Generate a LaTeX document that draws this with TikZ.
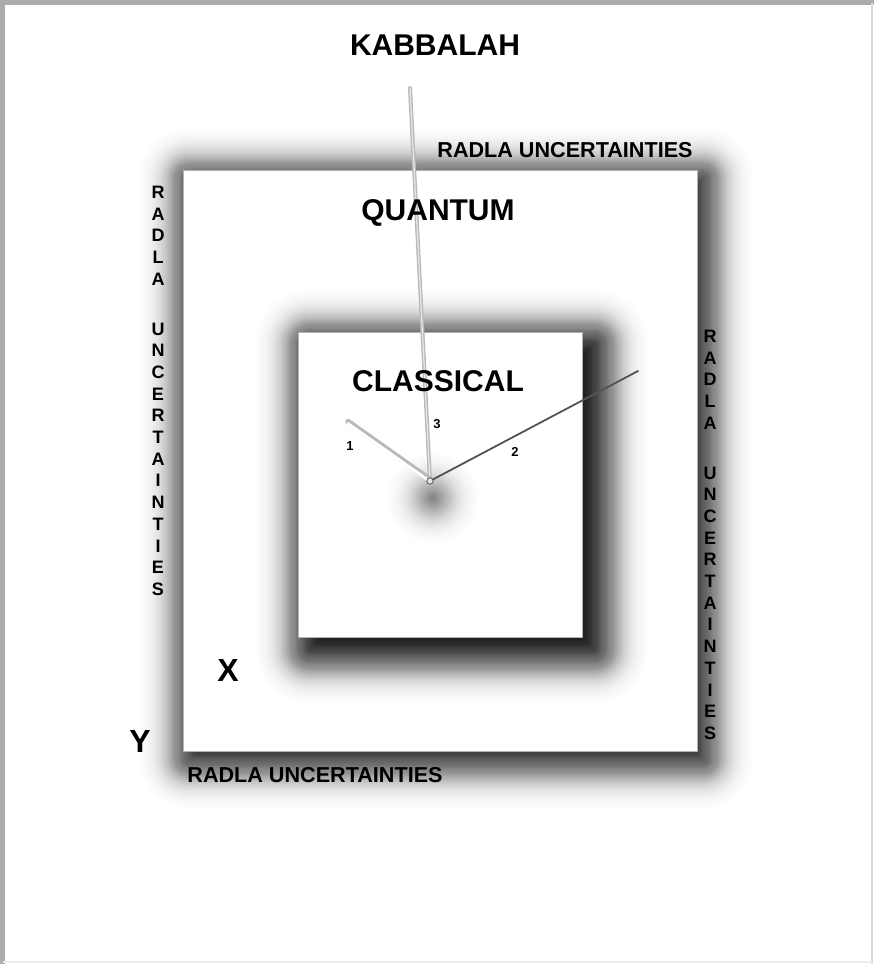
\documentclass[tikz,border=0pt]{standalone}
\usepackage{fontspec}
\setmainfont{Liberation Sans}
\begin{document}
\begin{tikzpicture}[x=1pt,y=-1pt,
  bigtitle/.style={font=\fontsize{30}{32}\selectfont\bfseries, inner sep=0pt},
  edgelabel/.style={font=\fontsize{21.6}{24}\selectfont\bfseries, inner sep=0pt},
  vlabel/.style={font=\fontsize{18}{21.7}\selectfont\bfseries, inner sep=0pt, align=center, anchor=north},
  axislabel/.style={font=\fontsize{32}{34}\selectfont\bfseries, inner sep=0pt},
  handnum/.style={font=\fontsize{13}{15}\selectfont\bfseries, inner sep=0pt},
  panel/.style={fill=white, draw=gray!60, line width=0.7pt}]
\useasboundingbox (0,0) rectangle (874,964);
\fill[white] (0,0) rectangle (874,964);
% frame of the page
\draw[gray!65, line width=5pt] (2.5,964) -- (2.5,2.5) -- (874,2.5);
\draw[gray!30, line width=1.5pt] (872,2.5) -- (872,964);
\draw[gray!15, line width=1.5pt] (2.5,962) -- (872,962);

% gaussian-like soft shadow of the outer (quantum) square: offset (6,8), sigma 30
\foreach \k in {0,...,150} {
  \pgfmathsetmacro\rc{max(\k-75,1)}
  \pgfmathsetmacro\op{0.032*exp(-((\k-75)/30)^2)}
  \fill[black, opacity=\op, rounded corners=\rc pt]
    (183+6+75-\k,170+8+75-\k) rectangle (697+6-75+\k,751+8-75+\k);
}
\node[panel, minimum width=514pt, minimum height=581pt, anchor=north west] (quantumbox) at (183,170) {};

% soft shadow of the inner (classical) square: offset (12,12), sigma 32
\foreach \k in {0,...,160} {
  \pgfmathsetmacro\rc{max(\k-80,1)}
  \pgfmathsetmacro\op{0.038*exp(-((\k-80)/32)^2)}
  \fill[black, opacity=\op, rounded corners=\rc pt]
    (298+12+80-\k,332+12+80-\k) rectangle (582+12-80+\k,637+12-80+\k);
}
\node[panel, minimum width=284pt, minimum height=305pt, anchor=north west] (classicalbox) at (298,332) {};

% blurred shadow under the clock centre
\foreach \r in {64,63,...,1} {
  \pgfmathsetmacro\op{0.022*exp(-(\r/30)^2)}
  \fill[black, opacity=\op] (433,498) circle (\r);
}

% clock hands
\coordinate (centre) at (430,481);
\coordinate (tip1) at (348,423);
\coordinate (tip2) at (638,371);
\coordinate (tip3) at (410,88);
\draw[gray!55, line width=4pt, line cap=round] (centre) -- (tip3);
\draw[gray!20, line width=1.3pt, line cap=round] (centre) -- (tip3);
\draw[gray!55, line width=5.5pt, line cap=round] ([yshift=1.5pt]centre) -- ([yshift=1.5pt]tip1);
\draw[white, line width=2.8pt, line cap=round] ([yshift=-0.5pt]centre) -- ([yshift=-0.5pt]tip1);
\draw[gray!65!black, line width=1.8pt, line cap=round] (centre) -- (tip2);
\filldraw[fill=gray!25, draw=gray!70!black, line width=0.8pt] (centre) circle (3.2);

\node[handnum] (n1) at (350,446) {1};
\node[handnum] (n3) at (437,424) {3};
\node[handnum] (n2) at (515,452) {2};

% titles
\node[bigtitle] (kabbalah) at (435,45) {KABBALAH};
\node[bigtitle] (quantum) at (438,213) {QUANTUM};
\node[bigtitle] (classical) at (438,381) {CLASSICAL};

% radla uncertainties
\node[edgelabel] (rtop) at (565,150) {RADLA UNCERTAINTIES};
\node[edgelabel] (rbottom) at (315,775) {RADLA UNCERTAINTIES};
\node[vlabel] (rleft) at (158,186) {R\\A\\D\\L\\A\\[28pt]U\\N\\C\\E\\R\\T\\A\\I\\N\\T\\I\\E\\S};
\node[vlabel] (rright) at (710,330) {R\\A\\D\\L\\A\\[28pt]U\\N\\C\\E\\R\\T\\A\\I\\N\\T\\I\\E\\S};

% axes letters
\node[axislabel] (xlab) at (228,670) {X};
\node[axislabel] (ylab) at (140,741) {Y};
\end{tikzpicture}
\end{document}
